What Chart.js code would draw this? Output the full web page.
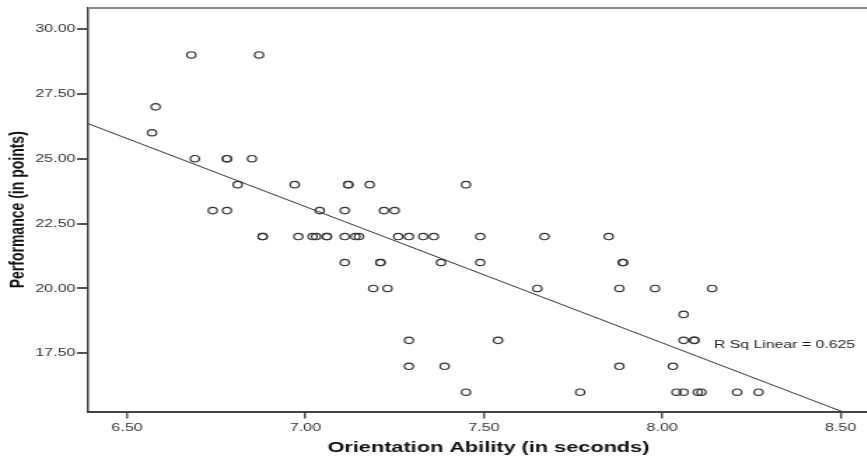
<!DOCTYPE html>
<html>
<head>
<meta charset="utf-8">
<script src="https://cdn.jsdelivr.net/npm/chart.js@4/dist/chart.umd.min.js"></script>
<style>
  html, body { margin: 0; padding: 0; background: #fff; overflow: hidden; }
  /* the original picture is stretched sideways, so the canvas is too */
  #wrap { width: 640px; height: 458px; transform: scaleX(1.4); transform-origin: 0 0; }
</style>
</head>
<body>
<div id="wrap"><canvas id="scatterCanvas" width="640" height="458"></canvas></div>
<script>
// orientation ability (seconds) and performance (points), one entry per subject
var orientationSec = [
    6.68, 6.87,
    6.58,
    6.57,
    6.69, 6.78, 6.78, 6.85,
    6.81, 6.97, 7.12, 7.12, 7.18, 7.45,
    6.74, 6.78, 7.04, 7.11, 7.22, 7.25,
    6.88, 6.88, 6.98, 7.02, 7.03, 7.06, 7.06, 7.11, 7.14, 7.15, 7.26, 7.29, 7.33, 7.36, 7.49, 7.67, 7.85,
    7.11, 7.21, 7.21, 7.38, 7.49, 7.89, 7.89,
    7.19, 7.23, 7.65, 7.88, 7.98, 8.14,
    8.06,
    7.29, 7.54, 8.06, 8.09, 8.09,
    7.29, 7.39, 7.88, 8.03,
    7.45, 7.77, 8.04, 8.06, 8.10, 8.11, 8.21, 8.27
];
var performancePts = [
    29, 29,
    27,
    26,
    25, 25, 25, 25,
    24, 24, 24, 24, 24, 24,
    23, 23, 23, 23, 23, 23,
    22, 22, 22, 22, 22, 22, 22, 22, 22, 22, 22, 22, 22, 22, 22, 22, 22,
    21, 21, 21, 21, 21, 21, 21,
    20, 20, 20, 20, 20, 20,
    19,
    18, 18, 18, 18, 18,
    17, 17, 17, 17,
    16, 16, 16, 16, 16, 16, 16, 16
];

// fit line as drawn in the picture (ends clipped by the axes)
var fitX = [6.391, 8.661];
var fitY = [26.35, 14.43];
var fitLabel = 'R Sq Linear = 0.625';
var fitLabelAt = [8.145, 17.82];

var xTicks = [6.5, 7.0, 7.5, 8.0, 8.5];
var yTicks = [17.5, 20.0, 22.5, 25.0, 27.5, 30.0];

var points = orientationSec.map((x, i) => ({ x: x, y: performancePts[i] }));
var fitPoints = fitX.map((x, i) => ({ x: x, y: fitY[i] }));

var fontFamily = '"Liberation Sans", Arial, sans-serif';

// top frame line and the R square note
var extras = {
    id: 'extras',
    afterDatasetsDraw(chart) {
        const ctx = chart.ctx;
        const area = chart.chartArea;
        ctx.save();
        ctx.strokeStyle = '#8a8a8a';
        ctx.lineWidth = 2;
        ctx.beginPath();
        ctx.moveTo(area.left, area.top);
        ctx.lineTo(chart.width, area.top);
        ctx.stroke();

        ctx.fillStyle = '#222';
        ctx.font = '11.3px ' + fontFamily;
        ctx.textAlign = 'left';
        ctx.textBaseline = 'middle';
        ctx.fillText(fitLabel,
            chart.scales.x.getPixelForValue(fitLabelAt[0]),
            chart.scales.y.getPixelForValue(fitLabelAt[1]));
        ctx.restore();
    }
};

var ctx = document.getElementById('scatterCanvas').getContext('2d');

var chart = new Chart(ctx, {
    type: 'scatter',
    data: {
        datasets: [{
            data: points,
            pointStyle: 'circle',
            pointRadius: 3.2,
            pointBorderWidth: 1.2,
            borderColor: '#333',
            backgroundColor: 'rgba(0,0,0,0)'
        }, {
            data: fitPoints,
            showLine: true,
            pointRadius: 0,
            borderColor: '#333',
            borderWidth: 1
        }]
    },
    options: {
        responsive: false,
        animation: false,
        layout: { padding: { top: 8, right: 0, left: 0, bottom: 0 } },
        plugins: {
            legend: { display: false },
            tooltip: { enabled: false }
        },
        scales: {
            x: {
                type: 'linear',
                min: 6.391,
                max: 8.635,
                afterBuildTicks: s => { s.ticks = xTicks.map(v => ({ value: v })); },
                afterFit: s => { s.height = 46.5; },
                grid: { drawOnChartArea: false, drawTicks: true, tickLength: 7, lineWidth: 1.5, color: '#555' },
                border: { display: true, color: '#444', width: 2 },
                ticks: {
                    font: { family: fontFamily, size: 11.5 },
                    color: '#333',
                    padding: 2,
                    maxRotation: 0,
                    callback: v => Number(v).toFixed(2)
                },
                title: {
                    display: true,
                    text: 'Orientation Ability (in seconds)',
                    font: { family: fontFamily, size: 15.5, weight: 'bold' },
                    color: '#111',
                    padding: { top: 0, bottom: 1 }
                }
            },
            y: {
                type: 'linear',
                min: 15.257,
                max: 30.809,
                afterBuildTicks: s => { s.ticks = yTicks.map(v => ({ value: v })); },
                afterFit: s => { s.width = 63; },
                grid: { drawOnChartArea: false, drawTicks: true, tickLength: 8, lineWidth: 2, color: '#555' },
                border: { display: true, color: '#444', width: 1.5 },
                ticks: {
                    font: { family: fontFamily, size: 11.5 },
                    color: '#333',
                    padding: 1,
                    callback: v => Number(v).toFixed(2)
                },
                title: {
                    display: true,
                    text: 'Performance (in points)',
                    font: { family: fontFamily, size: 14, weight: 'bold' },
                    color: '#111',
                    padding: { top: 4.5, bottom: 0 }
                }
            }
        }
    },
    plugins: [extras]
});
</script>
</body>
</html>
